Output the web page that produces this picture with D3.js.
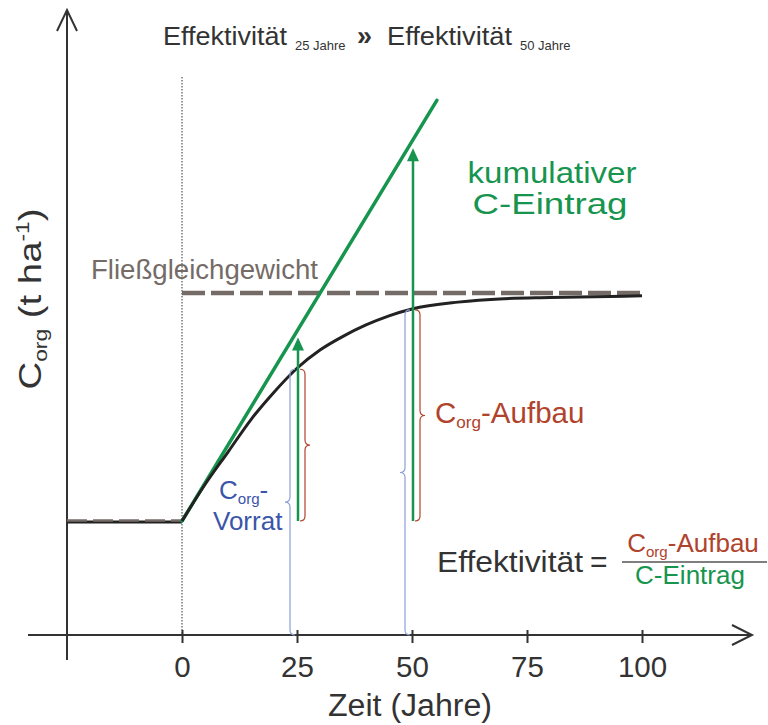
<!DOCTYPE html>
<meta charset="utf-8">
<style>
body { margin: 0; background: #fff; }
text { font-family: "Liberation Sans", Arial, sans-serif; }
</style>
<svg width="768" height="725"></svg>
<script src="https://cdn.jsdelivr.net/npm/d3@7"></script>
<script>
// Werte (Corg in willkürlichen Einheiten)
var jahre = [0, 5, 10, 15, 20, 25, 30, 35, 40, 45, 50, 60, 70, 80, 100];
var corg  = [10, 13.2, 16.05, 18.9, 21.3, 23.4, 25.0, 26.2, 27.2, 28.0, 28.6, 29.2, 29.5, 29.6, 29.75];
var vorPeriode = [-25, 0];          // Jahre vor der Umstellung
var startwert = 10;                 // altes Fließgleichgewicht
var gleichgewicht = 30;             // neues Fließgleichgewicht
var eintragJahre = [0, 55.4];       // kumulativer C-Eintrag
var eintragWerte = [10, 46.9];
var messJahre = [25, 50];
var pfeilSpitzen = [26.1, 42.7];
var corgMessung = [23.4, 28.6];
var tickJahre = [0, 25, 50, 75, 100];

var dunkel = "#333", gruen = "#17954f", rot = "#b0432c", blau = "#3b56a8",
    blauHell = "#8d9fd9", grau = "#746b67";

var svg = d3.select("svg");

var x = d3.scaleLinear().domain([0, 100]).range([182, 642]);
var y = d3.scaleLinear().domain([0, 30]).range([635, 293]);

// Achsen
svg.append("line").attr("x1", 28).attr("x2", 752).attr("y1", y(0)).attr("y2", y(0))
    .attr("stroke", dunkel).attr("stroke-width", 2);
svg.append("polyline").attr("points", [[732, y(0) - 10], [752, y(0)], [732, y(0) + 10]].join(" "))
    .attr("fill", "none").attr("stroke", dunkel).attr("stroke-width", 2);
svg.append("line").attr("x1", x(-25)).attr("x2", x(-25)).attr("y1", 10).attr("y2", 660)
    .attr("stroke", dunkel).attr("stroke-width", 2);
svg.append("polyline").attr("points", [[x(-25) - 10, 31], [x(-25), 10], [x(-25) + 10, 31]].join(" "))
    .attr("fill", "none").attr("stroke", dunkel).attr("stroke-width", 2);

var gx = svg.append("g").attr("transform", "translate(0," + y(0) + ")")
    .call(d3.axisBottom(x).tickValues(tickJahre).tickSize(8));
gx.attr("font-size", null).attr("font-family", null);
gx.select(".domain").remove();
gx.selectAll(".tick line").attr("y1", -5).attr("stroke", dunkel).attr("stroke-width", 2);
gx.selectAll(".tick text").attr("dy", null).attr("y", 42)
    .attr("font-size", 29.5).attr("fill", dunkel);

// Achsentitel
svg.append("text").attr("x", 410).attr("y", 716).attr("text-anchor", "middle")
    .attr("font-size", 31).attr("textLength", 164).attr("lengthAdjust", "spacingAndGlyphs")
    .attr("fill", dunkel).text("Zeit (Jahre)");

var yl = svg.append("text").attr("transform", "translate(41,299) rotate(-90) scale(1.2,1)")
    .attr("text-anchor", "middle").attr("font-size", 32).attr("fill", dunkel);
yl.append("tspan").text("C");
yl.append("tspan").attr("font-size", 19).attr("dy", 6).text("org");
yl.append("tspan").attr("dy", -6).text(" (t ha");
yl.append("tspan").attr("font-size", 19).attr("dy", -12).text("-1");
yl.append("tspan").attr("dy", 12).text(")");

// senkrechte Linie bei t = 0
svg.append("line").attr("x1", x(0)).attr("x2", x(0)).attr("y1", 77).attr("y2", y(0))
    .attr("stroke", dunkel).attr("stroke-width", 1).attr("stroke-dasharray", "1.5,1.5");

// altes Gleichgewicht
svg.append("line").attr("x1", x(vorPeriode[0])).attr("x2", x(vorPeriode[1]))
    .attr("y1", y(startwert) + 1).attr("y2", y(startwert) + 1)
    .attr("stroke", "#222").attr("stroke-width", 3);
svg.append("line").attr("x1", x(vorPeriode[0])).attr("x2", x(vorPeriode[1]))
    .attr("y1", y(startwert) - 0.5).attr("y2", y(startwert) - 0.5)
    .attr("stroke", grau).attr("stroke-width", 2.5).attr("stroke-dasharray", "20,6");

// neues Fließgleichgewicht
svg.append("line").attr("x1", x(0)).attr("x2", x(100))
    .attr("y1", y(gleichgewicht)).attr("y2", y(gleichgewicht))
    .attr("stroke", grau).attr("stroke-width", 4.5).attr("stroke-dasharray", "23,6");

// kumulativer C-Eintrag
svg.append("line").attr("x1", x(eintragJahre[0])).attr("y1", y(eintragWerte[0]))
    .attr("x2", x(eintragJahre[1])).attr("y2", y(eintragWerte[1]))
    .attr("stroke", gruen).attr("stroke-width", 3.5).attr("stroke-linecap", "round");

// Corg-Verlauf
var line = d3.line().x(function(d, i) { return x(jahre[i]); }).y(function(d) { return y(d); })
    .curve(d3.curveMonotoneX);
svg.append("path").attr("d", line(corg)).attr("fill", "none")
    .attr("stroke", "#222").attr("stroke-width", 3);

// geschweifte Klammer, senkrecht
function klammer(x0, y1, y2, dir, w) {
    var ym = (y1 + y2) / 2, xa = x0 + dir * w, xt = x0 + dir * 2 * w;
    return "M" + x0 + "," + y1 +
        "Q" + xa + "," + y1 + " " + xa + "," + (y1 + w) +
        "L" + xa + "," + (ym - w) +
        "Q" + xa + "," + ym + " " + xt + "," + ym +
        "Q" + xa + "," + ym + " " + xa + "," + (ym + w) +
        "L" + xa + "," + (y2 - w) +
        "Q" + xa + "," + y2 + " " + x0 + "," + y2;
}

messJahre.forEach(function(t, i) {
    var xm = x(t);
    // Vorrat (blau)
    svg.append("path").attr("d", klammer(xm - 2, y(corgMessung[i]) + 1, y(0), -1, 5))
        .attr("fill", "none").attr("stroke", blauHell).attr("stroke-width", 1.2);
    // Aufbau (rot)
    svg.append("path").attr("d", klammer(xm + 3, y(corgMessung[i]) + 1, y(startwert), 1, 5))
        .attr("fill", "none").attr("stroke", rot).attr("stroke-width", 1.2);
    // Eintrag (grün)
    svg.append("line").attr("x1", xm + 1).attr("x2", xm + 1)
        .attr("y1", y(startwert)).attr("y2", y(pfeilSpitzen[i]) + 10)
        .attr("stroke", gruen).attr("stroke-width", 2.5);
    var ty = y(pfeilSpitzen[i]);
    svg.append("path").attr("d", "M" + (xm + 1) + "," + ty + "L" + (xm + 7) + "," + (ty + 13) +
            "L" + (xm - 5) + "," + (ty + 13) + "Z").attr("fill", gruen);
});

// Beschriftungen
function corgText(sel, groesse) {
    sel.append("tspan").text("C");
    sel.append("tspan").attr("font-size", groesse * 0.58).attr("dy", 5).text("org");
    return sel.append("tspan").attr("dy", -5);
}
function breit(sel, w) {
    return sel.attr("textLength", w).attr("lengthAdjust", "spacingAndGlyphs");
}

breit(svg.append("text").attr("x", 163).attr("y", 45).attr("font-size", 26).attr("fill", dunkel), 124).text("Effektivität");
svg.append("text").attr("x", 295).attr("y", 50).attr("font-size", 13).attr("fill", dunkel).text("25 Jahre");
svg.append("text").attr("x", 357).attr("y", 45).attr("font-size", 27).attr("font-weight", "bold").attr("fill", dunkel).text("»");
breit(svg.append("text").attr("x", 387).attr("y", 45).attr("font-size", 26).attr("fill", dunkel), 125).text("Effektivität");
svg.append("text").attr("x", 520).attr("y", 50).attr("font-size", 13).attr("fill", dunkel).text("50 Jahre");

breit(svg.append("text").attr("x", 91).attr("y", 279).attr("font-size", 27.5).attr("fill", grau), 227).text("Fließgleichgewicht");

breit(svg.append("text").attr("x", 552).attr("y", 183).attr("text-anchor", "middle")
    .attr("font-size", 29).attr("fill", gruen), 169).text("kumulativer");
breit(svg.append("text").attr("x", 550).attr("y", 214).attr("text-anchor", "middle")
    .attr("font-size", 29).attr("fill", gruen), 155).text("C-Eintrag");

var aufbau = svg.append("text").attr("x", 435).attr("y", 423).attr("font-size", 29.5).attr("fill", rot);
corgText(aufbau, 29.5).text("-Aufbau");

var vorrat = svg.append("text").attr("x", 219).attr("y", 499).attr("font-size", 26).attr("fill", blau);
corgText(vorrat, 26).text("-");
svg.append("text").attr("x", 213).attr("y", 530).attr("font-size", 26).attr("fill", blau).text("Vorrat");

breit(svg.append("text").attr("x", 437).attr("y", 572).attr("font-size", 30).attr("fill", dunkel), 146).text("Effektivität");
svg.append("text").attr("x", 590).attr("y", 572).attr("font-size", 30).attr("fill", dunkel).text("=");
var zaehler = svg.append("text").attr("x", 693).attr("y", 552).attr("text-anchor", "middle")
    .attr("font-size", 26).attr("fill", rot);
corgText(zaehler, 26).text("-Aufbau");
svg.append("line").attr("x1", 622).attr("x2", 767).attr("y1", 562).attr("y2", 562)
    .attr("stroke", "#555").attr("stroke-width", 1.5);
svg.append("text").attr("x", 690).attr("y", 584).attr("text-anchor", "middle")
    .attr("font-size", 26).attr("fill", gruen).text("C-Eintrag");
</script>
